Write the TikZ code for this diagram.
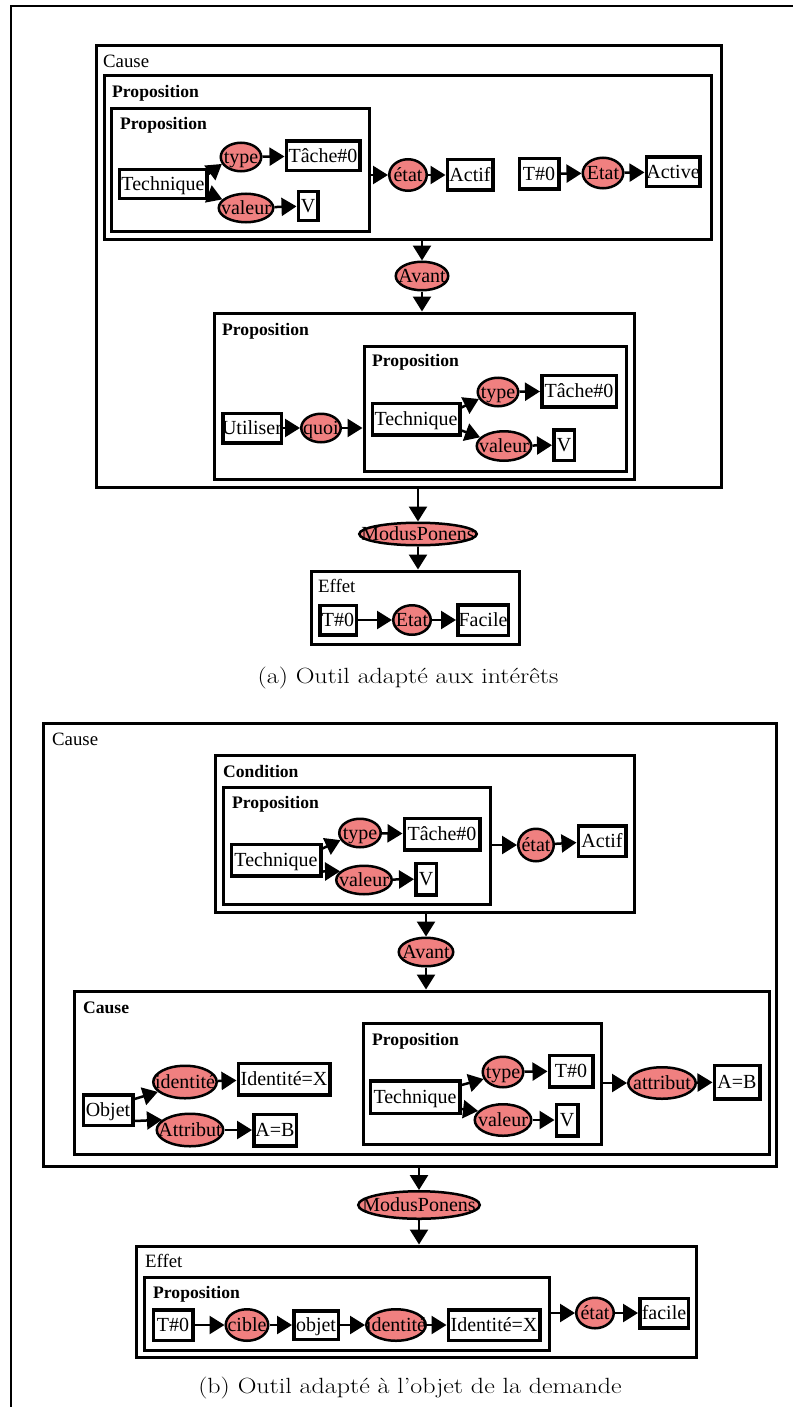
\documentclass[tikz,border=0pt]{standalone}
\usepackage{graphicx}
\usepackage{fontspec}
\setmainfont{Liberation Serif}
\newfontfamily\capfont{Latin Modern Roman}
\usetikzlibrary{arrows.meta,shapes.geometric,fit}
\definecolor{salmonfill}{RGB}{240,128,128}
\newcommand\ztxt[1]{\makebox[0pt]{\raisebox{-0.32em}[0pt][0pt]{#1}}}
\tikzset{
  nb/.style={draw, line width=3.5pt, rectangle, fill=white, inner sep=0pt, font=\fontsize{20}{20}\selectfont},
  el/.style={draw, line width=2.5pt, ellipse, fill=salmonfill, inner sep=0pt, font=\fontsize{20}{20}\selectfont},
  cont/.style={draw, line width=3pt, rectangle, inner sep=0pt},
  lbl/.style={anchor=base west, inner sep=0pt, font=\fontsize{18.8}{18.8}\selectfont},
  blbl/.style={anchor=base west, inner sep=0pt, font=\fontsize{17.6}{17.6}\selectfont\bfseries},
  arr/.style={line width=2.5pt, -{Triangle[length=15pt,width=18pt]}},
  captext/.style={anchor=base, inner sep=0pt, font=\capfont\fontsize{22}{22}\selectfont},
  pageframe/.style={line width=1.5pt}
}
\begin{document}
\begin{tikzpicture}[x=1pt,y=-1pt]
\useasboundingbox (0,0) rectangle (793,1407);
\coordinate (fa) at (11,1407);
\coordinate (fb) at (11,6);
\coordinate (fc) at (793,6);
\draw[pageframe] (fa) -- (fb) -- (fc);

% ================= (a) =================
\node[cont, fit={(96,46) (721,487)}] (cause1) {};
\node[cont, fit={(104,76) (711,239)}] (prop1) {};
\node[cont, fit={(111,109) (369,231)}] (prop1i) {};
\node[cont, fit={(214,313) (634,479)}] (prop2) {};
\node[cont, fit={(364,346) (626,471)}] (prop2i) {};
\node[cont, fit={(311,571) (519,644)}] (effet1) {};

\node[lbl] (lcause1) at (103,68) {Cause};
\node[blbl] (lprop1) at (112,98) {Proposition};
\node[blbl] (lprop1i) at (120,130) {Proposition};
\node[blbl] (lprop2) at (222,335) {Proposition};
\node[blbl] (lprop2i) at (372,366) {Proposition};
\node[lbl] (leffet1) at (318,592) {Effet};

\node[nb, minimum width=87.5pt, minimum height=28.5pt] (tech1) at (163,184) {\ztxt{Technique}};
\node[el, minimum width=40.5pt, minimum height=28.5pt] (type1) at (241,157) {\ztxt{type}};
\node[nb, minimum width=73.5pt, minimum height=29.5pt] (tache1) at (323,156) {\ztxt{Tâche\#0}};
\node[el, minimum width=54.5pt, minimum height=28.5pt] (val1) at (246,208) {\ztxt{valeur}};
\node[nb, minimum width=19.5pt, minimum height=28.5pt] (v1) at (308,206) {\ztxt{V}};
\node[el, minimum width=37.5pt, minimum height=31.5pt] (etat1) at (408,175) {\ztxt{état}};
\node[nb, minimum width=45.5pt, minimum height=30.5pt] (actif1) at (470,175) {\ztxt{Actif}};
\node[nb, minimum width=39.5pt, minimum height=30.5pt] (t01) at (539,174) {\ztxt{T\#0}};
\node[el, minimum width=40.5pt, minimum height=30.5pt] (Etat1) at (603,173) {\ztxt{Etat}};
\node[nb, minimum width=53.5pt, minimum height=29.5pt] (active1) at (673,172) {\ztxt{Active}};
\node[el, minimum width=52.5pt, minimum height=28.5pt] (avant1) at (422,276) {\ztxt{Avant}};
\node[nb, minimum width=58.5pt, minimum height=29.5pt] (util) at (252,428) {\ztxt{Utiliser}};
\node[el, minimum width=39.5pt, minimum height=28.5pt] (quoi) at (321,428) {\ztxt{quoi}};
\node[nb, minimum width=87.5pt, minimum height=31.5pt] (tech2) at (416,419) {\ztxt{Technique}};
\node[el, minimum width=40.5pt, minimum height=28.5pt] (type2) at (498,392) {\ztxt{type}};
\node[nb, minimum width=74.5pt, minimum height=31.5pt] (tache2) at (579,391) {\ztxt{Tâche\#0}};
\node[el, minimum width=54.5pt, minimum height=29.5pt] (val2) at (504,446) {\ztxt{valeur}};
\node[nb, minimum width=20.5pt, minimum height=30.5pt] (v2) at (564,445) {\ztxt{V}};
\node[el, minimum width=117.5pt, minimum height=22.5pt] (modus1) at (418,534) {\ztxt{ModusPonens}};
\node[nb, minimum width=36.5pt, minimum height=29.5pt] (t02) at (338,620) {\ztxt{T\#0}};
\node[el, minimum width=37.5pt, minimum height=29.5pt] (Etat2) at (412,620) {\ztxt{Etat}};
\node[nb, minimum width=50.5pt, minimum height=30.5pt] (facile1) at (483,620) {\ztxt{Facile}};

\draw[arr] ([yshift=-6pt]tech1.north east) -- (type1.200);
\draw[arr] ([yshift=6pt]tech1.south east) -- (val1.160);
\draw[arr] (type1) -- (tache1);
\draw[arr] (val1) -- (v1);
\draw[arr] (prop1i.east |- etat1) -- (etat1.west);
\draw[arr] (etat1) -- (actif1);
\draw[arr] (t01) -- (Etat1);
\draw[arr] (Etat1) -- (active1);
\draw[arr] (avant1 |- prop1.south) -- (avant1.north);
\draw[arr] (avant1.south) -- (avant1 |- prop2.north);
\draw[arr] (util) -- (quoi);
\draw[arr] (quoi.east) -- (quoi -| prop2i.west);
\draw[arr] ([yshift=-6pt]tech2.north east) -- (type2.200);
\draw[arr] ([yshift=6pt]tech2.south east) -- (val2.160);
\draw[arr] (type2) -- (tache2);
\draw[arr] (val2) -- (v2);
\draw[arr] (modus1 |- cause1.south) -- (modus1.north);
\draw[arr] (modus1.south) -- (modus1 |- effet1.north);
\draw[arr] (t02) -- (Etat2);
\draw[arr] (Etat2) -- (facile1);

\node[captext] (capa) at (408,683) {\scalebox{1.18}[1]{(a) Outil adapté aux intérêts}};

% ================= (b) =================
\node[cont, fit={(43,723) (776,1166)}] (cause2) {};
\node[cont, fit={(215,755) (634,912)}] (cond) {};
\node[cont, fit={(223,787) (490,904)}] (prop3) {};
\node[cont, fit={(74,991) (769,1154)}] (causei) {};
\node[cont, fit={(363,1023) (601,1144)}] (prop4) {};
\node[cont, fit={(136,1246) (696,1357)}] (effet2) {};
\node[cont, fit={(144,1277) (549,1350)}] (prop5) {};

\node[lbl] (lcause2) at (52,745) {Cause};
\node[blbl] (lcond) at (223,777) {Condition};
\node[blbl] (lprop3) at (232,808) {Proposition};
\node[blbl] (lcausei) at (83,1013) {Cause};
\node[blbl] (lprop4) at (372,1045) {Proposition};
\node[lbl] (leffet2) at (145,1267) {Effet};
\node[blbl] (lprop5) at (153,1298) {Proposition};

\node[nb, minimum width=89.5pt, minimum height=31.5pt] (tech3) at (276,860) {\ztxt{Technique}};
\node[el, minimum width=41.5pt, minimum height=28.5pt] (type3) at (360,833) {\ztxt{type}};
\node[nb, minimum width=75.5pt, minimum height=31.5pt] (tache3) at (442,834) {\ztxt{Tâche\#0}};
\node[el, minimum width=55.5pt, minimum height=28.5pt] (val3) at (364,880) {\ztxt{valeur}};
\node[nb, minimum width=20.5pt, minimum height=31.5pt] (v3) at (426,879) {\ztxt{V}};
\node[el, minimum width=35.5pt, minimum height=32.5pt] (etat3) at (536,845) {\ztxt{état}};
\node[nb, minimum width=47.5pt, minimum height=30.5pt] (actif3) at (602,841) {\ztxt{Actif}};
\node[el, minimum width=54.5pt, minimum height=28.5pt] (avant2) at (426,952) {\ztxt{Avant}};
\node[nb, minimum width=49.5pt, minimum height=30.5pt] (objet1) at (108,1110) {\ztxt{Objet}};
\node[el, minimum width=63.5pt, minimum height=32.5pt] (ident1) at (185,1082) {\ztxt{identité}};
\node[nb, minimum width=91.5pt, minimum height=31.5pt] (idx1) at (284,1079) {\ztxt{Identité=X}};
\node[el, minimum width=66.5pt, minimum height=32.5pt] (attr1) at (190,1130) {\ztxt{Attribut}};
\node[nb, minimum width=42.5pt, minimum height=31.5pt] (ab1) at (275,1130) {\ztxt{A=B}};
\node[nb, minimum width=89.5pt, minimum height=32.5pt] (tech4) at (415,1097) {\ztxt{Technique}};
\node[el, minimum width=40.5pt, minimum height=30.5pt] (type4) at (503,1072) {\ztxt{type}};
\node[nb, minimum width=43.5pt, minimum height=31.5pt] (t04) at (571,1071) {\ztxt{T\#0}};
\node[el, minimum width=56.5pt, minimum height=31.5pt] (val4) at (503,1120) {\ztxt{valeur}};
\node[nb, minimum width=21.5pt, minimum height=31.5pt] (v4) at (567,1120) {\ztxt{V}};
\node[el, minimum width=67.5pt, minimum height=31.5pt] (attr2) at (662,1083) {\ztxt{attribut}};
\node[nb, minimum width=45.5pt, minimum height=33.5pt] (ab2) at (737,1082) {\ztxt{A=B}};
\node[el, minimum width=121.5pt, minimum height=27.5pt] (modus2) at (419,1205) {\ztxt{ModusPonens}};
\node[nb, minimum width=39.5pt, minimum height=30.5pt] (t05) at (173,1325) {\ztxt{T\#0}};
\node[el, minimum width=42.5pt, minimum height=31.5pt] (cible) at (247,1325) {\ztxt{cible}};
\node[nb, minimum width=44.5pt, minimum height=28.5pt] (objet2) at (316,1325) {\ztxt{objet}};
\node[el, minimum width=59.5pt, minimum height=31.5pt] (ident2) at (396,1325) {\ztxt{identité}};
\node[nb, minimum width=91.5pt, minimum height=30.5pt] (idx2) at (494,1325) {\ztxt{Identité=X}};
\node[el, minimum width=37.5pt, minimum height=30.5pt] (etat5) at (595,1313) {\ztxt{état}};
\node[nb, minimum width=48.5pt, minimum height=29.5pt] (facile2) at (664,1313) {\ztxt{facile}};

\draw[arr] ([yshift=-6pt]tech3.north east) -- (type3.200);
\draw[arr] ([yshift=6pt]tech3.south east) -- (val3.160);
\draw[arr] (type3) -- (tache3);
\draw[arr] (val3) -- (v3);
\draw[arr] (prop3.east |- etat3) -- (etat3.west);
\draw[arr] (etat3) -- (actif3);
\draw[arr] (avant2 |- cond.south) -- (avant2.north);
\draw[arr] (avant2.south) -- (avant2 |- causei.north);
\draw[arr] ([yshift=-6pt]objet1.north east) -- (ident1.200);
\draw[arr] ([yshift=6pt]objet1.south east) -- (attr1.160);
\draw[arr] (ident1) -- (idx1);
\draw[arr] (attr1) -- (ab1);
\draw[arr] ([yshift=-6pt]tech4.north east) -- (type4.200);
\draw[arr] ([yshift=6pt]tech4.south east) -- (val4.160);
\draw[arr] (type4) -- (t04);
\draw[arr] (val4) -- (v4);
\draw[arr] (prop4.east |- attr2) -- (attr2.west);
\draw[arr] (attr2) -- (ab2);
\draw[arr] (modus2 |- cause2.south) -- (modus2.north);
\draw[arr] (modus2.south) -- (modus2 |- effet2.north);
\draw[arr] (t05) -- (cible);
\draw[arr] (cible) -- (objet2);
\draw[arr] (objet2) -- (ident2);
\draw[arr] (ident2) -- (idx2);
\draw[arr] (prop5.east |- etat5) -- (etat5.west);
\draw[arr] (etat5) -- (facile2);

\node[captext] (capb) at (410,1393) {\scalebox{1.18}[1]{(b) Outil adapté à l’objet de la demande}};
\end{tikzpicture}
\end{document}
